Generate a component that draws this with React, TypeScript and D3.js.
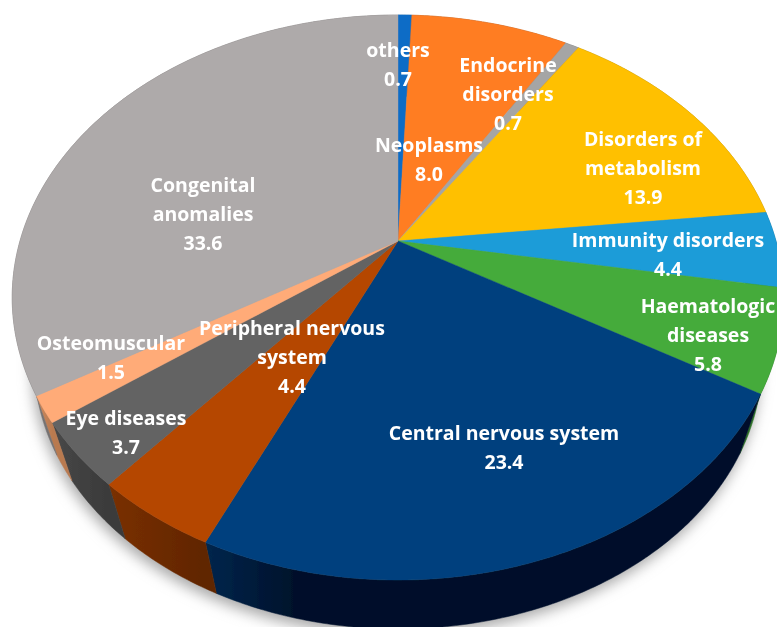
import * as d3 from "d3";

const categories = [
  "others",
  "Neoplasms",
  "Endocrine disorders",
  "Disorders of metabolism",
  "Immunity disorders",
  "Haematologic diseases",
  "Central nervous system",
  "Peripheral nervous system",
  "Eye diseases",
  "Osteomuscular",
  "Congenital anomalies",
];
const values = [0.7, 8.0, 0.7, 13.9, 4.4, 5.8, 23.4, 4.4, 3.7, 1.5, 33.6];
const topColors = ["#0f6cc6", "#ff7d24", "#a5a5a5", "#ffc000", "#1b9cd8", "#44ab3b", "#03417e", "#b54700", "#636363", "#ffab78", "#aeaaaa"];
const wallLight = ["#0a4a8a", "#a5521a", "#707070", "#a88000", "#12688f", "#2d7227", "#01264d", "#7a3000", "#484848", "#cf8a5e", "#757272"];
const wallDark = ["#0a4a8a", "#a5521a", "#707070", "#a88000", "#12688f", "#2d7227", "#00112b", "#602500", "#3a3a3a", "#b97a50", "#757272"];

// label text, broken the way the original breaks it
const labelLines = [
  ["others"],
  ["Neoplasms"],
  ["Endocrine", "disorders"],
  ["Disorders of", "metabolism"],
  ["Immunity disorders"],
  ["Haematologic", "diseases"],
  ["Central nervous system"],
  ["Peripheral nervous", "system"],
  ["Eye diseases"],
  ["Osteomuscular"],
  ["Congenital", "anomalies"],
];
const labelX = [398, 429, 508, 643, 668, 708, 504, 292, 126, 111, 203];
const labelY = [50, 145, 65, 139, 240, 306, 433, 328, 418, 343, 185];

const width = 777;
const height = 627;
const cx = 398;
const cy = 241;
const rx = 378;
const ry = 271.2;
const tilt = 0.2; // perspective of the disc
const wallScale = 0.943;
const wallShift = 82;
const lineGap = 29;

// disc angle -> screen, top face
const project = (a: number): [number, number] => {
  const u = Math.sin(a);
  const v = -Math.cos(a);
  const w = 1 - tilt * v;
  return [cx + (rx * u) / w, cy + (ry * v) / w];
};

// same point on the lower rim
const lower = ([x, y]: [number, number]): [number, number] => [
  cx + (x - cx) * wallScale,
  y * wallScale + wallShift,
];

const rim = (a0: number, a1: number) => {
  const n = Math.max(2, Math.ceil((a1 - a0) / 0.01));
  return d3.range(n + 1).map((i) => project(a0 + ((a1 - a0) * i) / n));
};

const line = d3.line();
const slices = d3.pie<number>().sort(null)(values);
const full = rim(0, Math.PI * 2);

export default function App() {
  return (
    <svg
      width={width}
      height={height}
      viewBox={`0 0 ${width} ${height}`}
      style={{ position: "absolute", left: 0, top: 0, background: "#fff" }}
    >
      <defs>
        <filter id="shadow" x="-10%" y="-10%" width="120%" height="120%">
          <feGaussianBlur stdDeviation="7" />
        </filter>
        <filter id="soft" x="-2%" y="-2%" width="104%" height="104%">
          <feGaussianBlur stdDeviation="0.5" />
        </filter>
        {slices.map((s, i) => {
          const [x0] = project(s.endAngle);
          const [x1] = project(s.startAngle);
          return (
            <linearGradient
              key={i}
              id={`wall${i}`}
              gradientUnits="userSpaceOnUse"
              x1={Math.min(x0, x1)}
              x2={Math.max(x0, x1)}
              y1={0}
              y2={0}
            >
              <stop offset="0" stopColor={wallLight[i]} />
              <stop offset={i === 6 ? 0.16 : 1} stopColor={wallDark[i]} />
            </linearGradient>
          );
        })}
      </defs>

      <path
        d={line(full.map(lower).map(([x, y]) => [x - 2, y + 6] as [number, number])) + "Z"}
        fill="#a8a8a8"
        filter="url(#shadow)"
      />

      <g filter="url(#soft)">
        {slices.map((s, i) => {
          const top = rim(s.startAngle, s.endAngle);
          const bottom = top.map(lower).reverse();
          return (
            <path
              key={categories[i]}
              d={line([...top, ...bottom]) + "Z"}
              fill={`url(#wall${i})`}
              stroke={`url(#wall${i})`}
              strokeWidth={0.5}
            />
          );
        })}
        {slices.map((s, i) => (
          <path
            key={categories[i]}
            d={line([[cx, cy], ...rim(s.startAngle, s.endAngle)]) + "Z"}
            fill={topColors[i]}
            stroke={topColors[i]}
            strokeWidth={0.4}
          />
        ))}

        <g
          fill="#fff"
          fontFamily="'Open Sans', Lato, sans-serif"
          fontWeight={700}
          fontSize={19.5}
          textAnchor="middle"
        >
          {categories.map((c, i) =>
            [...labelLines[i], values[i].toFixed(1)].map((t, j) => (
              <text key={c + j} x={labelX[i]} y={labelY[i] + j * lineGap} dy="0.35em">
                {t}
              </text>
            ))
          )}
        </g>
      </g>
    </svg>
  );
}
